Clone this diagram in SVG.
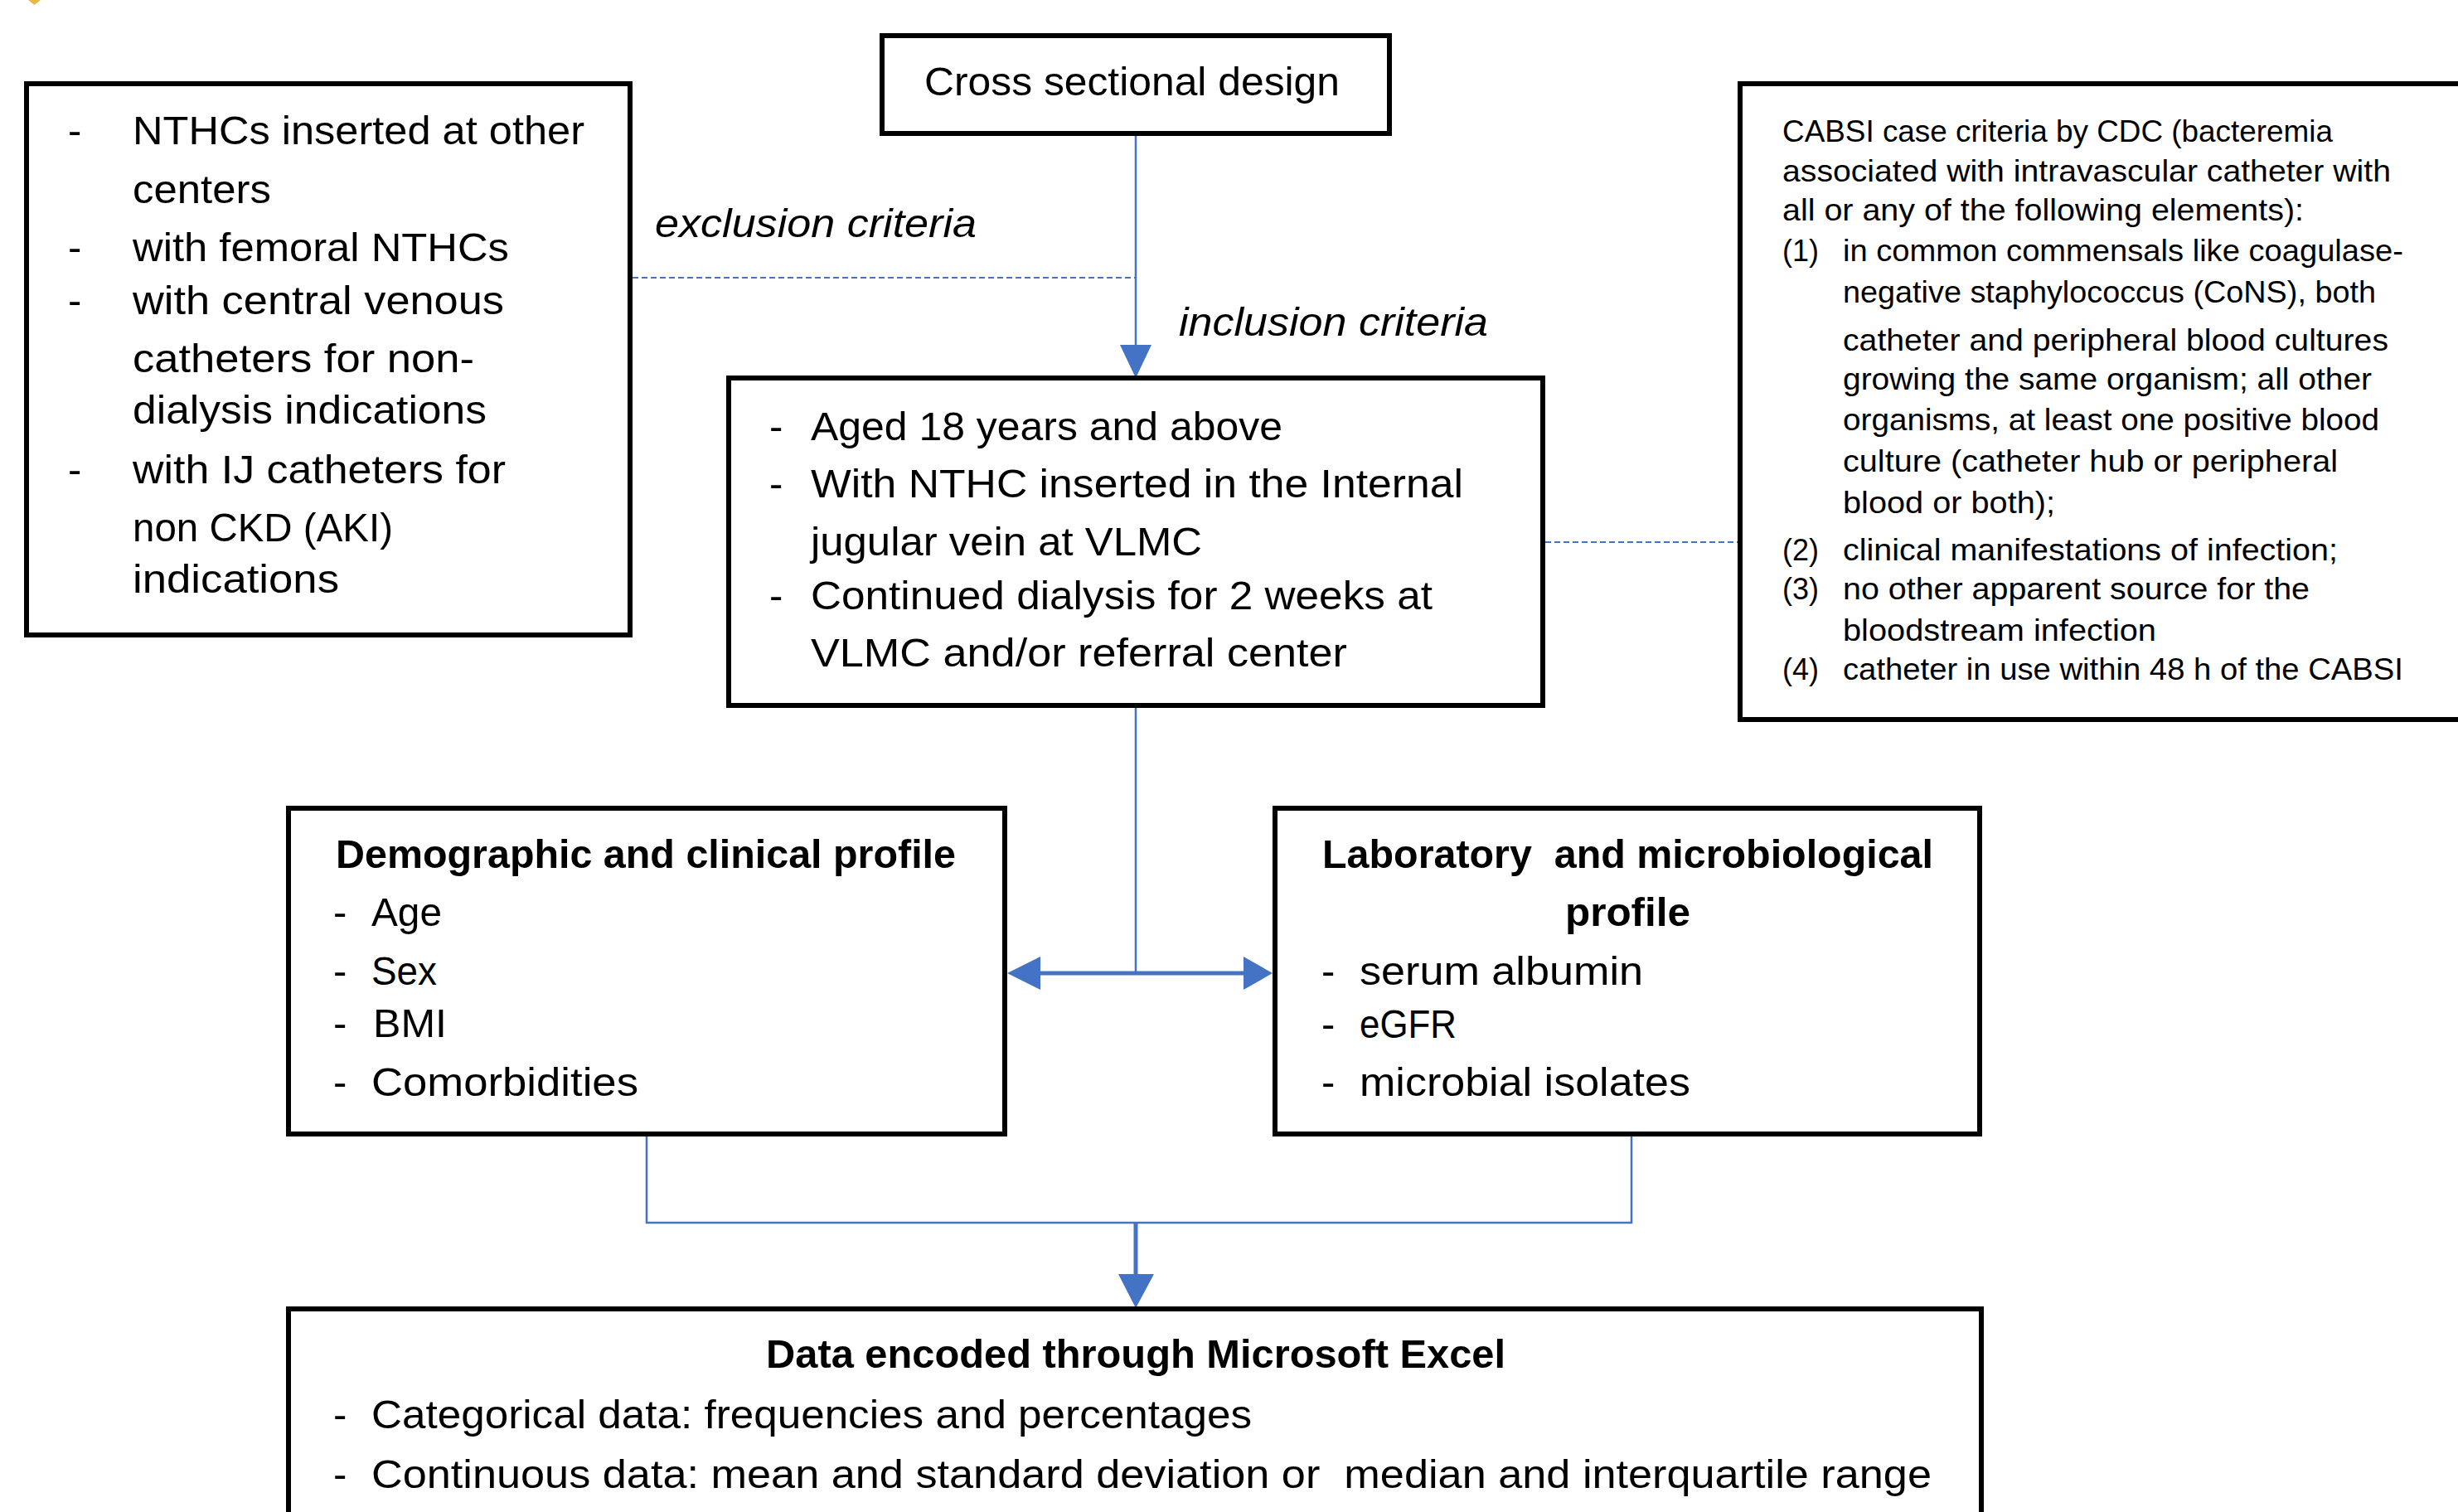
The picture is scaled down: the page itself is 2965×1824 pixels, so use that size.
<svg xmlns="http://www.w3.org/2000/svg" width="2965" height="1824" viewBox="0 0 2965 1824">
  <style>
    .box { fill: #ffffff; stroke: #000000; stroke-width: 6; }
    text { font-family: "Liberation Sans", Arial, sans-serif; fill: #000000; }
    .t { font-size: 49px; }
    .b { font-size: 49px; font-weight: bold; }
    .i { font-size: 49px; font-style: italic; }
    .s { font-size: 36px; }
    .ln { fill: none; stroke: #4472C4; stroke-width: 2.5; }
    .thick { fill: none; stroke: #4472C4; stroke-width: 5; }
    .dash { fill: none; stroke: #4472C4; stroke-width: 2; stroke-dasharray: 7 4; }
    .head { fill: #4472C4; }
  </style>

  <rect width="2965" height="1824" fill="#ffffff"/>
  <polygon points="34,0 49,0 41.5,6" fill="#E8B64A"/>

  <!-- connectors -->
  <g id="connectors">
    <line class="ln" x1="1370" y1="164" x2="1370" y2="418"/>
    <polygon class="head" points="1351,416 1389,416 1370,456"/>
    <line class="dash" x1="763" y1="335" x2="1370" y2="335"/>
    <line class="dash" x1="1864" y1="654" x2="2096" y2="654"/>
    <line class="ln" x1="1370" y1="854" x2="1370" y2="1174"/>
    <line class="thick" x1="1250" y1="1174" x2="1505" y2="1174"/>
    <polygon class="head" points="1215,1174 1255,1154 1255,1194"/>
    <polygon class="head" points="1535,1174 1500,1154 1500,1194"/>
    <polyline class="ln" points="780,1371 780,1475 1968,1475 1968,1371"/>
    <line class="thick" x1="1370" y1="1475" x2="1370" y2="1540"/>
    <polygon class="head" points="1349,1537 1392,1537 1370,1578"/>
    <text class="i" x="790" y="286" textLength="388" lengthAdjust="spacingAndGlyphs">exclusion criteria</text>
    <text class="i" x="1422" y="405" textLength="373" lengthAdjust="spacingAndGlyphs">inclusion criteria</text>
  </g>

  <!-- study design -->
  <g id="design">
    <rect class="box" x="1064" y="43" width="612" height="118"/>
    <text class="t" x="1115" y="115" textLength="501" lengthAdjust="spacingAndGlyphs">Cross sectional design</text>
  </g>

  <!-- exclusion criteria -->
  <g id="exclusion">
    <rect class="box" x="32" y="101" width="728" height="665"/>
    <text class="t" x="82" y="174">-</text>
    <text class="t" x="82" y="315">-</text>
    <text class="t" x="82" y="379">-</text>
    <text class="t" x="82" y="583">-</text>
    <text class="t" x="160" y="174" textLength="545" lengthAdjust="spacingAndGlyphs">NTHCs inserted at other</text>
    <text class="t" x="160" y="245" textLength="167" lengthAdjust="spacingAndGlyphs">centers</text>
    <text class="t" x="160" y="315" textLength="454" lengthAdjust="spacingAndGlyphs">with femoral NTHCs</text>
    <text class="t" x="160" y="379" textLength="448" lengthAdjust="spacingAndGlyphs">with central venous</text>
    <text class="t" x="160" y="449" textLength="412" lengthAdjust="spacingAndGlyphs">catheters for non-</text>
    <text class="t" x="160" y="511" textLength="427" lengthAdjust="spacingAndGlyphs">dialysis indications</text>
    <text class="t" x="160" y="583" textLength="450" lengthAdjust="spacingAndGlyphs">with IJ catheters for</text>
    <text class="t" x="160" y="653" textLength="314" lengthAdjust="spacingAndGlyphs">non CKD (AKI)</text>
    <text class="t" x="160" y="715" textLength="249" lengthAdjust="spacingAndGlyphs">indications</text>
  </g>

  <!-- inclusion criteria -->
  <g id="inclusion">
    <rect class="box" x="879" y="456" width="982" height="395"/>
    <text class="t" x="928" y="531">-</text>
    <text class="t" x="928" y="600">-</text>
    <text class="t" x="928" y="735">-</text>
    <text class="t" x="978" y="531" textLength="569" lengthAdjust="spacingAndGlyphs">Aged 18 years and above</text>
    <text class="t" x="978" y="600" textLength="787" lengthAdjust="spacingAndGlyphs">With NTHC inserted in the Internal</text>
    <text class="t" x="978" y="670" textLength="472" lengthAdjust="spacingAndGlyphs">jugular vein at VLMC</text>
    <text class="t" x="978" y="735" textLength="750" lengthAdjust="spacingAndGlyphs">Continued dialysis for 2 weeks at</text>
    <text class="t" x="978" y="804" textLength="647" lengthAdjust="spacingAndGlyphs">VLMC and/or referral center</text>
  </g>

  <!-- CABSI case definition -->
  <g id="cabsi">
    <rect class="box" x="2099" y="101" width="900" height="767"/>
    <text class="s" x="2150" y="171" textLength="664" lengthAdjust="spacingAndGlyphs">CABSI case criteria by CDC (bacteremia</text>
    <text class="s" x="2150" y="219" textLength="734" lengthAdjust="spacingAndGlyphs">associated with intravascular catheter with</text>
    <text class="s" x="2150" y="266" textLength="629" lengthAdjust="spacingAndGlyphs">all or any of the following elements):</text>
    <text class="s" x="2150" y="315">(1)</text>
    <text class="s" x="2150" y="676">(2)</text>
    <text class="s" x="2150" y="723">(3)</text>
    <text class="s" x="2150" y="820">(4)</text>
    <text class="s" x="2223" y="315" textLength="676" lengthAdjust="spacingAndGlyphs">in common commensals like coagulase-</text>
    <text class="s" x="2223" y="365" textLength="643" lengthAdjust="spacingAndGlyphs">negative staphylococcus (CoNS), both</text>
    <text class="s" x="2223" y="423" textLength="658" lengthAdjust="spacingAndGlyphs">catheter and peripheral blood cultures</text>
    <text class="s" x="2223" y="470" textLength="638" lengthAdjust="spacingAndGlyphs">growing the same organism; all other</text>
    <text class="s" x="2223" y="519" textLength="647" lengthAdjust="spacingAndGlyphs">organisms, at least one positive blood</text>
    <text class="s" x="2223" y="569" textLength="597" lengthAdjust="spacingAndGlyphs">culture (catheter hub or peripheral</text>
    <text class="s" x="2223" y="619" textLength="256" lengthAdjust="spacingAndGlyphs">blood or both);</text>
    <text class="s" x="2223" y="676" textLength="597" lengthAdjust="spacingAndGlyphs">clinical manifestations of infection;</text>
    <text class="s" x="2223" y="723" textLength="563" lengthAdjust="spacingAndGlyphs">no other apparent source for the</text>
    <text class="s" x="2223" y="773" textLength="378" lengthAdjust="spacingAndGlyphs">bloodstream infection</text>
    <text class="s" x="2223" y="820" textLength="676" lengthAdjust="spacingAndGlyphs">catheter in use within 48 h of the CABSI</text>
  </g>

  <!-- demographic and clinical profile -->
  <g id="demographic">
    <rect class="box" x="348" y="975" width="864" height="393"/>
    <text class="b" x="405" y="1047" textLength="748" lengthAdjust="spacingAndGlyphs">Demographic and clinical profile</text>
    <text class="t" x="402" y="1117">-</text>
    <text class="t" x="402" y="1188">-</text>
    <text class="t" x="402" y="1251">-</text>
    <text class="t" x="402" y="1322">-</text>
    <text class="t" x="448" y="1117" textLength="85" lengthAdjust="spacingAndGlyphs">Age</text>
    <text class="t" x="448" y="1188" textLength="79" lengthAdjust="spacingAndGlyphs">Sex</text>
    <text class="t" x="450" y="1251" textLength="89" lengthAdjust="spacingAndGlyphs">BMI</text>
    <text class="t" x="448" y="1322" textLength="322" lengthAdjust="spacingAndGlyphs">Comorbidities</text>
  </g>

  <!-- laboratory and microbiological profile -->
  <g id="laboratory">
    <rect class="box" x="1538" y="975" width="850" height="393"/>
    <text class="b" x="1595" y="1047" textLength="737" lengthAdjust="spacingAndGlyphs" xml:space="preserve">Laboratory  and microbiological</text>
    <text class="b" x="1888" y="1117" textLength="151" lengthAdjust="spacingAndGlyphs">profile</text>
    <text class="t" x="1594" y="1188">-</text>
    <text class="t" x="1594" y="1252">-</text>
    <text class="t" x="1594" y="1322">-</text>
    <text class="t" x="1640" y="1188" textLength="342" lengthAdjust="spacingAndGlyphs">serum albumin</text>
    <text class="t" x="1640" y="1252" textLength="117" lengthAdjust="spacingAndGlyphs">eGFR</text>
    <text class="t" x="1640" y="1322" textLength="399" lengthAdjust="spacingAndGlyphs">microbial isolates</text>
  </g>

  <!-- data analysis -->
  <g id="analysis">
    <rect class="box" x="348" y="1579" width="2042" height="300"/>
    <text class="b" x="924" y="1650" textLength="892" lengthAdjust="spacingAndGlyphs">Data encoded through Microsoft Excel</text>
    <text class="t" x="402" y="1723">-</text>
    <text class="t" x="402" y="1795">-</text>
    <text class="t" x="448" y="1723" textLength="1062" lengthAdjust="spacingAndGlyphs">Categorical data: frequencies and percentages</text>
    <text class="t" x="448" y="1795" textLength="1882" lengthAdjust="spacingAndGlyphs" xml:space="preserve">Continuous data: mean and standard deviation or  median and interquartile range</text>
  </g>
</svg>
